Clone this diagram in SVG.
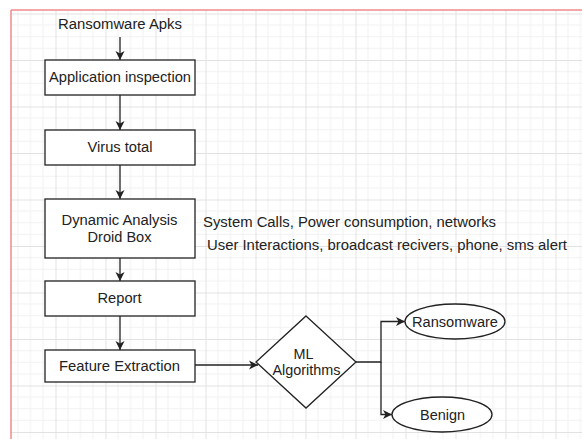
<svg xmlns="http://www.w3.org/2000/svg" width="582" height="439" viewBox="0 0 582 439">
<style>
.box{fill:#fff;stroke:#222;stroke-width:1.3}
.t{font-family:"Liberation Sans",Arial,sans-serif;font-size:14px;fill:#222;text-anchor:middle}
.ts{font-family:"Liberation Sans",Arial,sans-serif;font-size:14px;fill:#222}
.c{fill:none;stroke:#222;stroke-width:1.3}
</style>
<defs>
<pattern id="grid" patternUnits="userSpaceOnUse" x="5.5" y="13.5" width="50" height="46.5">
<g stroke="#f1f1f1" stroke-width="1">
<line x1="12.5" y1="0" x2="12.5" y2="46.5"/><line x1="25" y1="0" x2="25" y2="46.5"/><line x1="37.5" y1="0" x2="37.5" y2="46.5"/>
<line x1="0" y1="11.6" x2="50" y2="11.6"/><line x1="0" y1="23.25" x2="50" y2="23.25"/><line x1="0" y1="34.9" x2="50" y2="34.9"/>
</g>
<g stroke="#e2e2e2" stroke-width="1">
<line x1="0.5" y1="0" x2="0.5" y2="46.5"/><line x1="0" y1="0.5" x2="50" y2="0.5"/>
</g>
</pattern>
<marker id="ah" markerUnits="userSpaceOnUse" markerWidth="10" markerHeight="10" refX="9" refY="4.5" orient="auto" viewBox="0 0 10 9">
<path d="M0,0 L9,4.5 L0,9 L2.5,4.5 z" fill="#222"/>
</marker>
</defs>
<rect x="0" y="0" width="582" height="439" fill="#fff"/>
<rect x="11" y="10" width="571" height="429" fill="url(#grid)"/>
<g id="border" stroke="#f08a8a" stroke-width="1.5" fill="none">
<line x1="11" y1="10" x2="582" y2="10"/>
<line x1="11" y1="10" x2="11" y2="439"/>
</g>
<g id="connectors">
<line class="c" x1="120" y1="37" x2="120" y2="60" marker-end="url(#ah)"/>
<line class="c" x1="120" y1="95" x2="120" y2="130" marker-end="url(#ah)"/>
<line class="c" x1="120" y1="165" x2="120" y2="199" marker-end="url(#ah)"/>
<line class="c" x1="120" y1="258" x2="120" y2="281" marker-end="url(#ah)"/>
<line class="c" x1="120" y1="316" x2="120" y2="350" marker-end="url(#ah)"/>
<line class="c" x1="195" y1="365" x2="258" y2="365" marker-end="url(#ah)"/>
<polyline class="c" points="356,362 381,362 381,321.5 405,321.5" marker-end="url(#ah)"/>
<polyline class="c" points="381,362 381,414.5 392,414.5" marker-end="url(#ah)"/>
</g>
<g id="ransomware-apks"><text class="t" x="120" y="29" textLength="124" lengthAdjust="spacingAndGlyphs">Ransomware Apks</text></g>
<g id="app-inspection"><rect class="box" x="45" y="60" width="150" height="35"/><text class="t" x="120" y="82" textLength="142" lengthAdjust="spacingAndGlyphs">Application inspection</text></g>
<g id="virus-total"><rect class="box" x="45" y="130" width="150" height="35"/><text class="t" x="120" y="152" textLength="65" lengthAdjust="spacingAndGlyphs">Virus total</text></g>
<g id="dynamic-analysis"><rect class="box" x="45" y="199" width="150" height="59"/><text class="t" x="119.5" y="225" textLength="116" lengthAdjust="spacingAndGlyphs">Dynamic Analysis</text><text class="t" x="119.5" y="242" textLength="64" lengthAdjust="spacingAndGlyphs">Droid Box</text></g>
<g id="report"><rect class="box" x="45" y="281" width="150" height="35"/><text class="t" x="119.5" y="303" textLength="44" lengthAdjust="spacingAndGlyphs">Report</text></g>
<g id="feature-extraction"><rect class="box" x="45" y="350" width="150" height="32"/><text class="t" x="119.5" y="371" textLength="121" lengthAdjust="spacingAndGlyphs">Feature Extraction</text></g>
<g id="ml-algorithms"><polygon class="box" points="306,316 356,362 306,408 256,362"/><text class="t" x="303.5" y="359" textLength="20" lengthAdjust="spacingAndGlyphs">ML</text><text class="t" x="306.5" y="375" textLength="68" lengthAdjust="spacingAndGlyphs">Algorithms</text></g>
<g id="ransomware"><ellipse class="box" cx="455" cy="321.5" rx="50" ry="17.5"/><text class="t" x="455" y="326.5" textLength="86" lengthAdjust="spacingAndGlyphs">Ransomware</text></g>
<g id="benign"><ellipse class="box" cx="442" cy="414.5" rx="50" ry="17.5"/><text class="t" x="442.5" y="419.5" textLength="45" lengthAdjust="spacingAndGlyphs">Benign</text></g>
<g id="notes">
<text class="ts" x="203" y="227" textLength="293" lengthAdjust="spacingAndGlyphs">System Calls, Power consumption, networks</text>
<text class="ts" x="207" y="250" textLength="360" lengthAdjust="spacingAndGlyphs">User Interactions, broadcast recivers, phone, sms alert</text>
</g>
</svg>
